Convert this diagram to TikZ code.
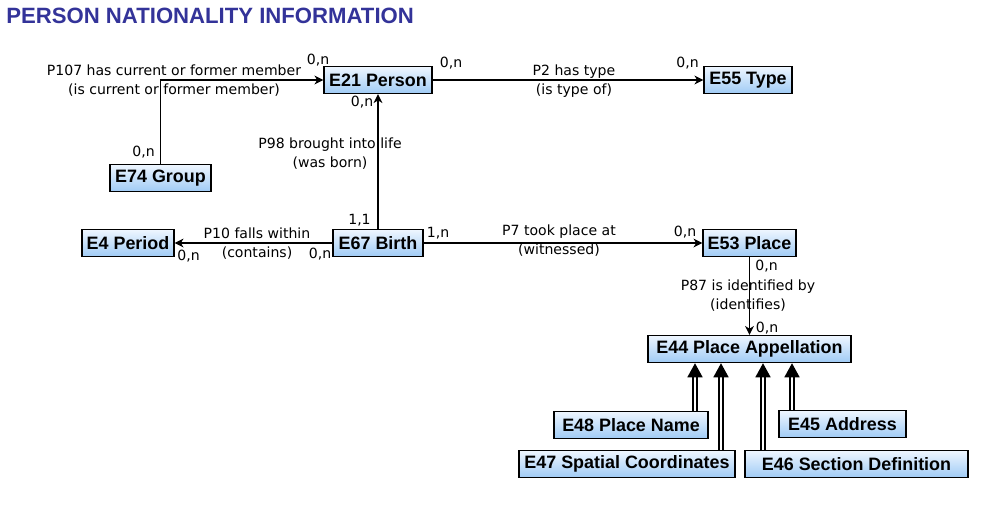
\documentclass[tikz,border=0pt]{standalone}
\usepackage{fontspec}
\setmainfont{DejaVu Sans}
\newfontfamily\boxfont{Liberation Sans}
\usetikzlibrary{arrows.meta, positioning, calc}
\definecolor{mytitle}{RGB}{51, 51, 153}
\definecolor{mytop}{RGB}{238, 246, 255}
\definecolor{mybottom}{RGB}{160, 203, 245}

\begin{document}
\begin{tikzpicture}[x=0.02cm, y=-0.02cm,
    entity/.style={rectangle, draw=black, line width=0.8pt, top color=mytop, bottom color=mybottom,
        minimum height=0.54cm, inner sep=0pt, font=\boxfont\bfseries\fontsize{10.2}{12}\selectfont},
    rel/.style={line width=1pt, -{Stealth[length=5pt, width=5pt, inset=1.5pt]}},
    isa/.style={double, double distance=1.2pt, line width=1pt, -{Triangle[length=8pt, width=8.5pt]}},
    lbl/.style={align=center, inner sep=0pt, font=\fontsize{8}{10.8}\selectfont},
    card/.style={inner sep=0pt, font=\fontsize{8}{9}\selectfont}]
    \useasboundingbox (0, 0) rectangle (999, 529);

    % titre
    \node[anchor=base west, inner sep=0pt, text=mytitle, font=\boxfont\bfseries\fontsize{12.6}{15}\selectfont] (title) at (6, 23) {PERSON NATIONALITY INFORMATION};

    % entites
    \node[entity, minimum width=2.16cm] (person) at (378, 80) {E21 Person};
    \node[entity, minimum width=1.76cm] (type) at (748, 80) {E55 Type};
    \node[entity, minimum width=2.02cm] (group) at (160.5, 178) {E74 Group};
    \node[entity, minimum width=1.84cm] (period) at (128, 243) {E4 Period};
    \node[entity, minimum width=1.80cm] (birth) at (378, 243) {E67 Birth};
    \node[entity, minimum width=1.86cm] (place) at (749.5, 243) {E53 Place};
    \node[entity, minimum width=4.06cm] (appel) at (749.5, 349) {E44 Place Appellation};
    \node[entity, minimum width=3.08cm] (pname) at (631, 425) {E48 Place Name};
    \node[entity, minimum width=2.54cm] (address) at (842.5, 424) {E45 Address};
    \node[entity, minimum width=4.32cm] (spatial) at (627, 464) {E47 Spatial Coordinates};
    \node[entity, minimum width=4.46cm] (section) at (856.5, 464) {E46 Section Definition};

    % proprietes
    \draw[rel] (group.north) |- (person.west);
    \draw[rel] (birth.north) -- (person.south);
    \draw[rel] (person.east) -- (type.west);
    \draw[rel] (birth.west) -- (period.east);
    \draw[rel] (birth.east) -- (place.west);
    \draw[rel] (place.south) -- (appel.north);

    \node[lbl] (p107) at (174, 80.5) {P107 has current or former member\\(is current or former member)};
    \node[lbl] (p98) at (330, 154) {P98 brought into life\\(was born)};
    \node[lbl] (p2) at (574, 81) {P2 has type\\(is type of)};
    \node[lbl] (p10) at (257, 244) {P10 falls within\\(contains)};
    \node[lbl] (p7) at (559, 240.5) {P7 took place at\\(witnessed)};
    \node[lbl] (p87) at (748, 296) {P87 is identified by\\(identifies)};

    % cardinalites
    \node[card] (c1) at (318, 60) {0,n};
    \node[card] (c2) at (143.5, 152) {0,n};
    \node[card] (c3) at (362, 102) {0,n};
    \node[card] (c4) at (451, 63) {0,n};
    \node[card] (c5) at (687.5, 63) {0,n};
    \node[card] (c6) at (359.5, 220) {1,1};
    \node[card] (c7) at (188.5, 256) {0,n};
    \node[card] (c8) at (320, 254) {0,n};
    \node[card] (c9) at (438, 233) {1,n};
    \node[card] (c10) at (685, 232) {0,n};
    \node[card] (c11) at (766.5, 266) {0,n};
    \node[card] (c12) at (767, 328) {0,n};

    % sous-classes
    \coordinate (t48) at ($(appel.south) + (-54.5, 0)$);
    \coordinate (t47) at ($(appel.south) + (-28.5, 0)$);
    \coordinate (t46) at ($(appel.south) + (13.5, 0)$);
    \coordinate (t45) at ($(appel.south) + (42.5, 0)$);
    \draw[isa] (t48 |- pname.north) -- (t48);
    \draw[isa] (t47 |- spatial.north) -- (t47);
    \draw[isa] (t46 |- section.north) -- (t46);
    \draw[isa] (t45 |- address.north) -- (t45);
\end{tikzpicture}
\end{document}
